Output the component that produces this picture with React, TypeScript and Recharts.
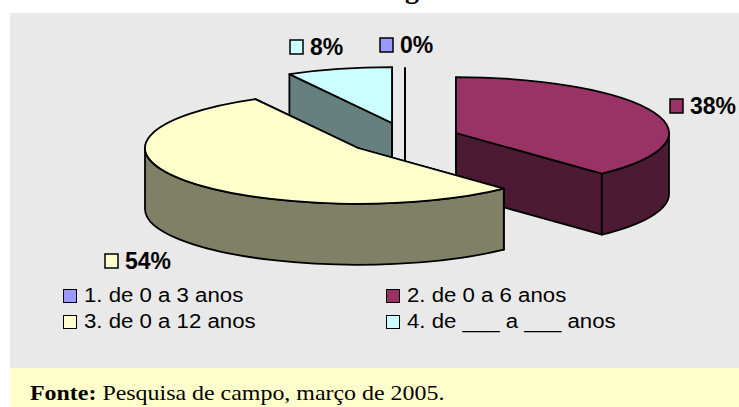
import { Legend, Pie, PieChart } from 'recharts';

const categories = ['1. de 0 a 3 anos', '2. de 0 a 6 anos', '3. de 0 a 12 anos', '4. de ___ a ___ anos'];
const shares = [0, 38, 54, 8];
const topColors = ['#9999ff', '#993366', '#ffffcc', '#ccffff'];
const wallColors = ['#4d4d80', '#4d1a33', '#808066', '#668080'];

// back to front, the yellow slice covers the walls of the others
const drawOrder = [0, 3, 1, 2];

// exploded slices: shift from the pie centre, then percent label offset from the same centre
const explode = [
  { dx: 0, dy: -12 },
  { dx: 51, dy: -3 },
  { dx: -47, dy: 12 },
  { dx: -13, dy: -13 },
];
const labelSpots = [
  { dx: -25, dy: -91 },
  { dx: 265, dy: -30 },
  { dx: -300, dy: 125 },
  { dx: -115, dy: -89 },
];

const SQUASH = 0.262;
const DEPTH = 61;
const CX = 405;
const CY = 136;

const data = categories.map((name, i) => ({ name, value: shares[i] }));

function Slice3D(props: any, only: number) {
  if (props.index !== only) return <g />;
  const x = props.cx + explode[only].dx;
  const y = props.cy + explode[only].dy;
  const rx = props.outerRadius;
  const ry = rx * SQUASH;
  const from = 90 - props.startAngle;
  const to = 90 - props.endAngle;
  const pt = (deg: number, drop = 0) => {
    const r = (deg * Math.PI) / 180;
    return `${x + rx * Math.sin(r)} ${y - ry * Math.cos(r) + drop}`;
  };
  const line = { stroke: '#000', strokeWidth: 1.8, strokeLinejoin: 'round' as const };
  const wall = wallColors[only];
  const radial = (deg: number) =>
    `M${x} ${y} L${pt(deg)} L${pt(deg, DEPTH)} L${x} ${y + DEPTH} Z`;
  const s = Math.max(from, 90);
  const e = Math.min(to, 270);
  const large = to - from > 180 ? 1 : 0;
  return (
    <g>
      <path d={radial(from)} fill={wall} {...line} />
      <path d={radial(to)} fill={wall} {...line} />
      {s < e && (
        <path
          d={`M${pt(s)} A${rx} ${ry} 0 0 1 ${pt(e)} L${pt(e, DEPTH)} A${rx} ${ry} 0 0 0 ${pt(s, DEPTH)} Z`}
          fill={wall}
          {...line}
        />
      )}
      {to > from && (
        <path
          d={`M${x} ${y} L${pt(from)} A${rx} ${ry} 0 ${large} 1 ${pt(to)} Z`}
          fill={topColors[only]}
          {...line}
        />
      )}
    </g>
  );
}

function PercentLabel(props: any, only: number) {
  if (props.index !== only) return <g />;
  const x = props.cx + labelSpots[only].dx;
  const y = props.cy + labelSpots[only].dy;
  return (
    <g>
      <rect x={x} y={y - 7} width={13} height={14} fill={topColors[only]} stroke="#000" strokeWidth={1.5} />
      <text
        x={x + 20}
        y={y + 8}
        fontFamily="Liberation Sans"
        fontWeight="bold"
        fontSize={23}
        fill="#000"
      >
        {`${Math.round(props.percent * 100)}%`}
      </text>
    </g>
  );
}

function LegendGrid() {
  return (
    <div
      style={{
        display: 'grid',
        gridTemplateColumns: '323px 300px',
        rowGap: 3,
        fontFamily: 'Liberation Sans',
        fontSize: 20,
        lineHeight: '23px',
        color: '#000',
      }}
    >
      {categories.map((name, i) => (
        <div key={name} style={{ display: 'flex', alignItems: 'center', whiteSpace: 'pre' }}>
          <span
            style={{
              display: 'inline-block',
              boxSizing: 'border-box',
              width: 14,
              height: 14,
              marginRight: 7,
              background: topColors[i],
              border: '1.5px solid #000',
            }}
          />
          <span style={{ display: 'inline-block', transform: 'scaleX(1.11)', transformOrigin: 'left center' }}>{name}</span>
        </div>
      ))}
    </div>
  );
}

export default function App() {
  return (
    <div style={{ position: 'absolute', left: 0, top: 0, width: 739, height: 407, overflow: 'hidden', background: '#fff' }}>
      <div style={{ position: 'absolute', left: 10, top: 13, width: 729, height: 355, background: '#e9e9e9' }} />
      <div style={{ position: 'absolute', left: 10, top: 368, width: 729, height: 39, background: '#ffffcc' }} />
      <div
        style={{
          position: 'absolute',
          left: 405,
          top: -25,
          fontFamily: 'Liberation Serif',
          fontWeight: 'bold',
          fontSize: 28,
          lineHeight: '28px',
        }}
      >
        g
      </div>
      <div
        style={{
          position: 'absolute',
          left: 30,
          top: 381,
          fontFamily: 'Liberation Serif',
          fontSize: 22,
          lineHeight: '24px',
          color: '#000',
          whiteSpace: 'pre',
          transform: 'scaleX(1.087)',
          transformOrigin: 'left center',
        }}
      >
        <b>Fonte:</b> Pesquisa de campo, março de 2005.
      </div>
      <div style={{ position: 'absolute', left: 0, top: 0 }}>
        <PieChart width={739} height={407} margin={{ top: 0, right: 0, bottom: 0, left: 0 }}>
          {drawOrder.map((only) => (
            <Pie
              key={only}
              data={data}
              dataKey="value"
              nameKey="name"
              cx={CX}
              cy={CY}
              innerRadius={0}
              outerRadius={213}
              startAngle={90}
              endAngle={-270}
              stroke="none"
              isAnimationActive={false}
              labelLine={false}
              label={(p: any) => PercentLabel(p, only)}
              shape={(p: any) => Slice3D(p, only)}
            />
          ))}
          <Legend
            content={() => <LegendGrid />}
            wrapperStyle={{ position: 'absolute', left: 63, top: 284, width: 640, bottom: 'auto' }}
          />
        </PieChart>
      </div>
    </div>
  );
}
